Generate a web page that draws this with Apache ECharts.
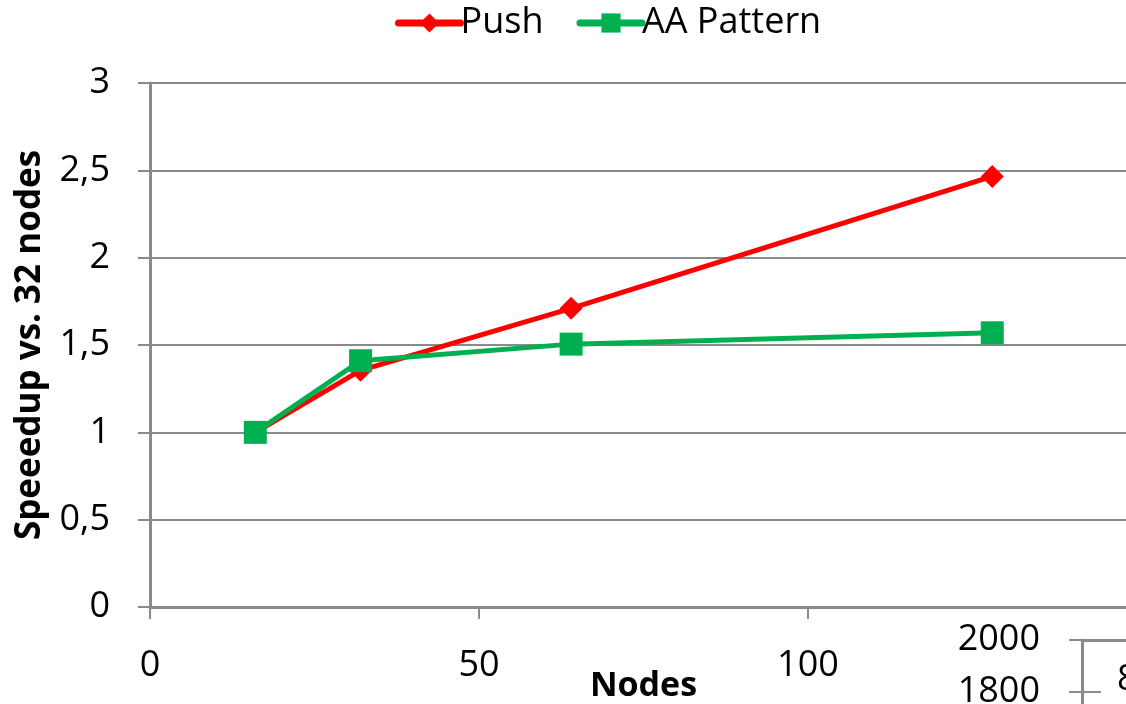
<!DOCTYPE html>
<html>
<head>
<meta charset="utf-8">
<script src="https://cdn.jsdelivr.net/npm/echarts@6/dist/echarts.min.js"></script>
<style>
  html, body { margin: 0; padding: 0; background: #fff; }
  #chart { width: 1126px; height: 704px; }
</style>
</head>
<body>
<div id="chart"></div>
<script>
// Node counts and speedups relative to the baseline run
const nodes = [16, 32, 64, 128];
const pushSpeedup = [1.0, 1.355, 1.71, 2.465];
const aaSpeedup = [1.0, 1.41, 1.505, 1.57];
const seriesNames = ['Push', 'AA Pattern'];
const secondaryTicks = [1200, 2000, 200];

const FONT = 'Open Sans';
const GRID_COLOR = '#8a8a8a';

const toPairs = (xs, ys) => xs.map((x, i) => [x, ys[i]]);

const chart = echarts.init(document.getElementById('chart'));
chart.setOption({
  animation: false,
  textStyle: { fontFamily: FONT },
  legend: {
    top: 0,
    left: 390,
    itemWidth: 62,
    itemHeight: 24,
    itemGap: 33,
    lineStyle: { width: 7, cap: 'round' },
    textStyle: { fontSize: 36, color: '#000', fontFamily: FONT, padding: [0, 0, 0, -5] },
    data: seriesNames
  },
  grid: [
    { left: 150, top: 83, width: 987, height: 524, outerBoundsMode: 'none', containLabel: false },
    { left: 1082, top: 640, width: 300, height: 208, outerBoundsMode: 'none', containLabel: false }
  ],
  xAxis: [
    {
      gridIndex: 0,
      type: 'value',
      min: 0, max: 150, interval: 50,
      name: 'Nodes',
      nameLocation: 'middle',
      nameGap: 62,
      nameMoveOverlap: false,
      nameTextStyle: { fontSize: 34, fontWeight: 'bold', color: '#000', fontFamily: FONT },
      axisLine: { show: true, lineStyle: { color: GRID_COLOR, width: 3 } },
      axisTick: { show: true, length: 12, lineStyle: { color: GRID_COLOR, width: 2 } },
      axisLabel: { fontSize: 36, color: '#000', margin: 41, fontFamily: FONT, showMaxLabel: false },
      splitLine: { show: false }
    },
    {
      gridIndex: 1,
      type: 'value',
      min: 0, max: 1,
      position: 'top',
      axisLine: { show: true, lineStyle: { color: GRID_COLOR, width: 3 } },
      axisTick: { show: false },
      axisLabel: { show: false },
      splitLine: { show: false }
    }
  ],
  yAxis: [
    {
      gridIndex: 0,
      type: 'value',
      min: 0, max: 3, interval: 0.5,
      name: 'Speeedup vs. 32 nodes',
      nameLocation: 'middle',
      nameGap: 102,
      nameMoveOverlap: false,
      nameTextStyle: { fontSize: 35, fontWeight: 'bold', color: '#000', fontFamily: FONT },
      axisLine: { show: true, lineStyle: { color: GRID_COLOR, width: 3 } },
      axisTick: { show: true, length: 12, lineStyle: { color: GRID_COLOR, width: 2 } },
      axisLabel: {
        fontSize: 36, color: '#000', margin: 40, fontFamily: FONT,
        formatter: v => String(v).replace('.', ',')
      },
      splitLine: { show: true, lineStyle: { color: GRID_COLOR, width: 2 } }
    },
    {
      gridIndex: 1,
      type: 'value',
      min: secondaryTicks[0], max: secondaryTicks[1], interval: secondaryTicks[2],
      axisLine: { show: true, lineStyle: { color: GRID_COLOR, width: 3 } },
      axisTick: { show: true, length: 13, lineStyle: { color: GRID_COLOR, width: 2 } },
      axisLabel: { fontSize: 36, color: '#000', margin: 42, fontFamily: FONT, formatter: v => String(v) },
      splitLine: { show: false }
    },
    {
      gridIndex: 1,
      type: 'value',
      min: secondaryTicks[0], max: secondaryTicks[1], interval: secondaryTicks[2],
      position: 'left',
      axisLine: { show: false },
      axisTick: { show: true, inside: true, length: 19, lineStyle: { color: GRID_COLOR, width: 2 } },
      axisLabel: { show: false },
      splitLine: { show: false }
    }
  ],
  graphic: [
    {
      type: 'text', left: 1117, top: 662,
      style: { text: '8', fontSize: 36, fontFamily: FONT, fill: '#000' }
    }
  ],
  series: [
    {
      name: seriesNames[0],
      type: 'line',
      xAxisIndex: 0, yAxisIndex: 0,
      data: toPairs(nodes, pushSpeedup),
      color: '#ff0000',
      lineStyle: { color: '#ff0000', width: 5 },
      itemStyle: { color: '#ff0000' },
      symbol: 'diamond',
      symbolSize: 23,
      z: 2
    },
    {
      name: seriesNames[1],
      type: 'line',
      xAxisIndex: 0, yAxisIndex: 0,
      data: toPairs(nodes, aaSpeedup),
      color: '#00b050',
      lineStyle: { color: '#00b050', width: 5 },
      itemStyle: { color: '#00b050' },
      symbol: 'rect',
      symbolSize: 23,
      z: 3
    }
  ]
});
</script>
</body>
</html>
